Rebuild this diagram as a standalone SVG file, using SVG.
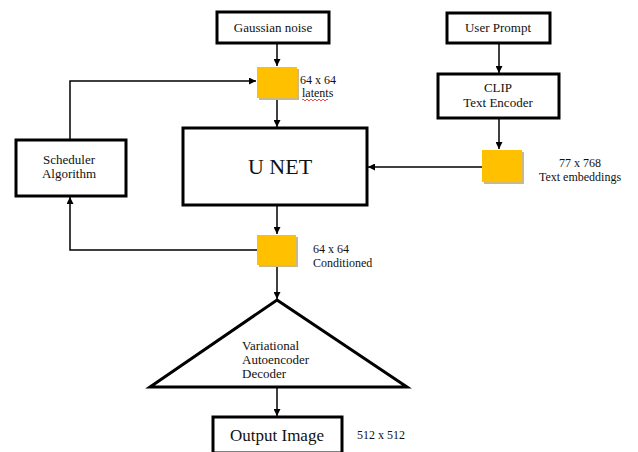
<svg xmlns="http://www.w3.org/2000/svg" width="638" height="452" viewBox="0 0 638 452">
<style>
.box{fill:#fff;stroke:#000;stroke-width:3}
.sq{fill:#FFC000}
.sh{fill:#c9b98a}
.ln{fill:none;stroke:#000;stroke-width:1.5}
text{font-family:"Liberation Serif","Times New Roman",serif;fill:#111}
.t13{font-size:13px}
.t12{font-size:12px}
</style>
<defs>
<marker id="ah" viewBox="0 0 10 10" refX="10" refY="5" markerWidth="7" markerHeight="7" markerUnits="userSpaceOnUse" orient="auto">
<path d="M0,0 L10,5 L0,10 z" fill="#000"/>
</marker>
</defs>
<rect width="638" height="452" fill="#fff"/>
<g id="connectors">
<line class="ln" x1="277" y1="44" x2="277" y2="66" marker-end="url(#ah)"/>
<polyline class="ln" points="70,139 70,81 256,81" marker-end="url(#ah)"/>
<line class="ln" x1="277" y1="98" x2="277" y2="127" marker-end="url(#ah)"/>
<line class="ln" x1="499" y1="44" x2="499" y2="73" marker-end="url(#ah)"/>
<line class="ln" x1="499" y1="119" x2="499" y2="149" marker-end="url(#ah)"/>
<line class="ln" x1="482" y1="167" x2="368" y2="167" marker-end="url(#ah)"/>
<line class="ln" x1="277" y1="206" x2="277" y2="234" marker-end="url(#ah)"/>
<polyline class="ln" points="257,250 70,250 70,197" marker-end="url(#ah)"/>
<line class="ln" x1="277" y1="266" x2="277" y2="299" marker-end="url(#ah)"/>
<line class="ln" x1="277" y1="388" x2="277" y2="416" marker-end="url(#ah)"/>
</g>
<g id="gaussian">
<rect class="box" x="217" y="12" width="112" height="31"/>
<text class="t13" x="273" y="32" text-anchor="middle">Gaussian noise</text>
</g>
<g id="latents">
<rect class="sh" x="259" y="69" width="40" height="31"/>
<rect class="sq" x="257" y="67" width="40" height="31"/>
<text class="t12" x="300" y="84">64 x 64</text>
<text class="t12" x="302" y="97">latents</text>
<path d="M302,100 q1,-2 2,0 t2,0 t2,0 t2,0 t2,0 t2,0 t2,0 t2,0 t2,0 t2,0 t2,0 t2,0 t2,0" fill="none" stroke="#e02020" stroke-width="0.8"/>
</g>
<g id="userprompt">
<rect class="box" x="447" y="13" width="103" height="30"/>
<text class="t13" x="498" y="32" text-anchor="middle">User Prompt</text>
</g>
<g id="clip">
<rect class="box" x="438" y="74" width="121" height="44"/>
<text class="t13" x="498" y="92" text-anchor="middle">CLIP</text>
<text class="t13" x="498" y="107" text-anchor="middle">Text Encoder</text>
</g>
<g id="scheduler">
<rect class="box" x="16" y="140" width="110" height="56"/>
<text class="t13" x="69" y="164" text-anchor="middle">Scheduler</text>
<text class="t13" x="69" y="178" text-anchor="middle">Algorithm</text>
</g>
<g id="unet">
<rect class="box" x="183" y="128" width="184" height="77"/>
<text x="280" y="174" text-anchor="middle" font-size="22">U NET</text>
</g>
<g id="embeddings">
<rect class="sh" x="484" y="152" width="40" height="32"/>
<rect class="sq" x="482" y="150" width="40" height="32"/>
<text class="t12" x="580" y="167" text-anchor="middle">77 x 768</text>
<text class="t12" x="580" y="181" text-anchor="middle">Text embeddings</text>
</g>
<g id="conditioned">
<rect class="sh" x="259" y="237" width="39" height="30"/>
<rect class="sq" x="257" y="235" width="39" height="30"/>
<text class="t12" x="313" y="253">64 x 64</text>
<text class="t12" x="313" y="267">Conditioned</text>
</g>
<g id="vae">
<polygon points="277,300 407,387 150,387" fill="#fff" stroke="#000" stroke-width="3" stroke-linejoin="miter"/>
<text class="t13" x="242" y="350">Variational</text>
<text class="t13" x="242" y="364">Autoencoder</text>
<text class="t13" x="242" y="378">Decoder</text>
</g>
<g id="output">
<rect class="box" x="213" y="417" width="129" height="36"/>
<text x="277" y="441" text-anchor="middle" font-size="17">Output Image</text>
<text class="t12" x="357" y="439">512 x 512</text>
</g>
</svg>
